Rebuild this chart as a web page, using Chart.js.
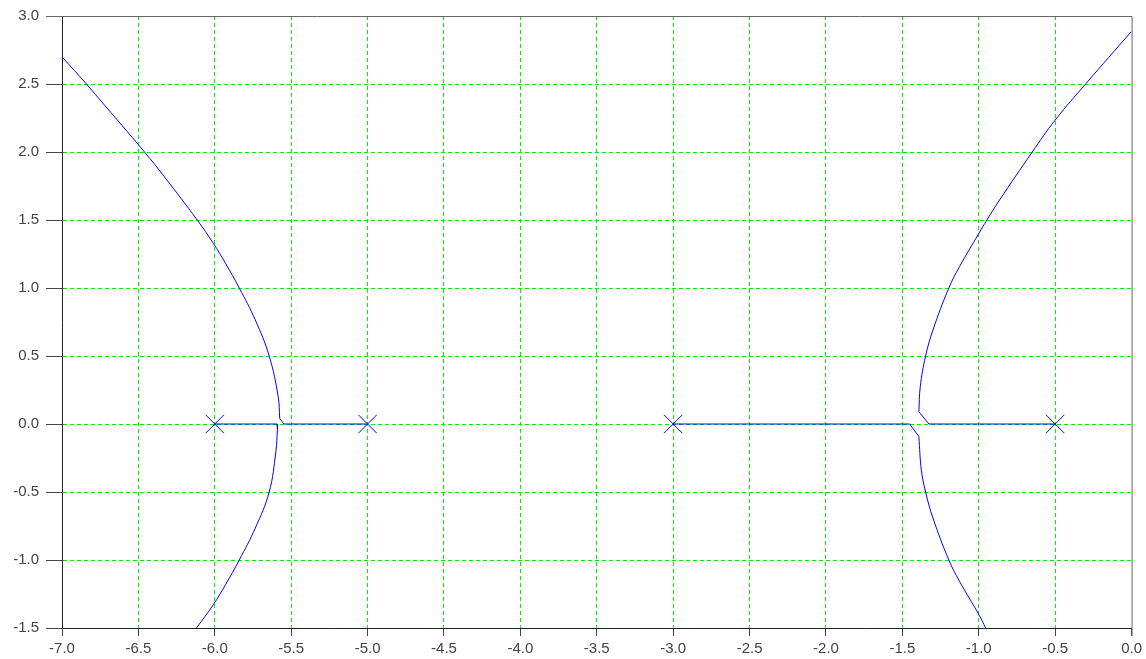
<!DOCTYPE html>
<html>
<head>
<meta charset="utf-8">
<title>Root locus</title>
<script src="https://cdn.jsdelivr.net/npm/chart.js@4/dist/chart.umd.min.js"></script>
<style>
  html, body { margin: 0; padding: 0; background: #fff; }
  #wrap { width: 1146px; height: 659px; position: relative; }
</style>
</head>
<body>
<div id="wrap"><canvas id="locus"></canvas></div>
<script>
// ── Data ──

const xTicks = [-7.0, -6.5, -6.0, -5.5, -5.0, -4.5, -4.0, -3.5, -3.0, -2.5, -2.0, -1.5, -1.0, -0.5, 0.0];
const yTicks = [-1.5, -1.0, -0.5, 0.0, 0.5, 1.0, 1.5, 2.0, 2.5, 3.0];

const polesX = [-6.0, -5.0, -3.0, -0.5];
const polesY = [0, 0, 0, 0];

// real-axis pieces (pole -> breakaway kink)
const axisA_X = [-6.0, -5.592, -5.59];
const axisA_Y = [0, 0, -0.04];
const axisB_X = [-5.0, -5.548, -5.575];
const axisB_Y = [0, 0, 0.04];
const axisC_X = [-3.0, -1.452, -1.392];
const axisC_Y = [0, 0, -0.093];
const axisD_X = [-0.5, -1.326, -1.392];
const axisD_Y = [0, 0, 0.09];

// complex branches
const leftUpX = [-5.575, -5.585, -5.644, -5.735, -5.84, -5.93, -6.01, -6.115, -6.33, -6.46, -6.76, -6.84, -7.0];
const leftUpY = [0.04, 0.2, 0.5, 0.765, 1.0, 1.182, 1.329, 1.5, 1.818, 2.0, 2.395, 2.5, 2.70];

const leftDnX = [-5.59, -5.6, -5.644, -5.735, -5.84, -5.93, -6.01, -6.12];
const leftDnY = [-0.04, -0.2, -0.5, -0.765, -1.0, -1.182, -1.329, -1.5];

const rightUpX = [-1.392, -1.383, -1.348, -1.3, -1.196, -1.126, -0.999, -0.947, -0.864, -0.65, -0.5, -0.297, -0.002];
const rightUpY = [0.09, 0.274, 0.5, 0.691, 1.0, 1.157, 1.402, 1.5, 1.647, 2.0, 2.235, 2.505, 2.885];

const rightDnX = [-1.392, -1.376, -1.348, -1.3, -1.196, -1.126, -0.999, -0.955];
const rightDnY = [-0.093, -0.338, -0.5, -0.691, -1.0, -1.157, -1.402, -1.5];

// ── Helpers ──

const pts = (xs, ys) => xs.map((x, i) => ({ x, y: ys[i] }));

const BLUE = '#0000ff';
const GREEN = '#00f000';
const FONT = { family: "'Liberation Sans', Arial, sans-serif", size: 15 };

const line = (xs, ys, tension) => ({
  data: pts(xs, ys),
  showLine: true,
  borderColor: BLUE,
  borderWidth: 1,
  pointRadius: 0,
  tension,
  fill: false,
});

// top and right frame lines in grey
const framePlugin = {
  id: 'frame',
  afterDraw(c) {
    const { ctx, chartArea: a } = c;
    ctx.save();
    ctx.strokeStyle = '#666';
    ctx.lineWidth = 1;
    ctx.beginPath();
    ctx.moveTo(a.left - 16, a.top + 0.5);
    ctx.lineTo(a.right + 0.5, a.top + 0.5);
    ctx.lineTo(a.right + 0.5, a.bottom + 8);
    ctx.stroke();
    ctx.restore();
  },
};

new Chart(document.getElementById('locus'), {
  type: 'scatter',
  data: {
    datasets: [
      line(axisA_X, axisA_Y, 0),
      line(axisB_X, axisB_Y, 0),
      line(axisC_X, axisC_Y, 0),
      line(axisD_X, axisD_Y, 0),
      line(leftUpX, leftUpY, 0.4),
      line(leftDnX, leftDnY, 0.4),
      line(rightUpX, rightUpY, 0.4),
      line(rightDnX, rightDnY, 0.4),
      {
        data: pts(polesX, polesY),
        pointStyle: 'crossRot',
        pointRadius: 13,
        pointBorderColor: BLUE,
        pointBorderWidth: 1,
        showLine: false,
      },
    ],
  },
  options: {
    responsive: true,
    maintainAspectRatio: false,
    animation: false,
    layout: { padding: { top: 16, right: 14, left: 0, bottom: 0 } },
    plugins: { legend: { display: false }, tooltip: { enabled: false } },
    scales: {
      x: {
        type: 'linear',
        min: xTicks[0],
        max: xTicks[xTicks.length - 1],
        afterBuildTicks: s => { s.ticks = xTicks.map(v => ({ value: v })); },
        afterFit: s => { s.height = 31; },
        ticks: { color: '#444', font: FONT, padding: 4, maxRotation: 0, autoSkip: false, callback: v => v.toFixed(1) },
        grid: {
          color: ctx => (ctx.tick && ctx.tick.value === 0 ? 'rgba(0,0,0,0)' : GREEN),
          tickColor: '#444',
          tickLength: 8,
          lineWidth: 1,
        },
        border: { color: '#222', width: 1, dash: [4, 3] },
      },
      y: {
        type: 'linear',
        min: yTicks[0],
        max: yTicks[yTicks.length - 1],
        afterBuildTicks: s => { s.ticks = yTicks.map(v => ({ value: v })); },
        afterFit: s => { s.width = 62; },
        ticks: { color: '#444', font: FONT, padding: 7, autoSkip: false, callback: v => v.toFixed(1) },
        grid: {
          color: ctx => (ctx.tick && ctx.tick.value === 3 ? 'rgba(0,0,0,0)' : GREEN),
          tickColor: '#444',
          tickLength: 16,
          lineWidth: 1,
        },
        border: { color: '#222', width: 1, dash: [4, 3] },
      },
    },
  },
  plugins: [framePlugin],
});
</script>
</body>
</html>
